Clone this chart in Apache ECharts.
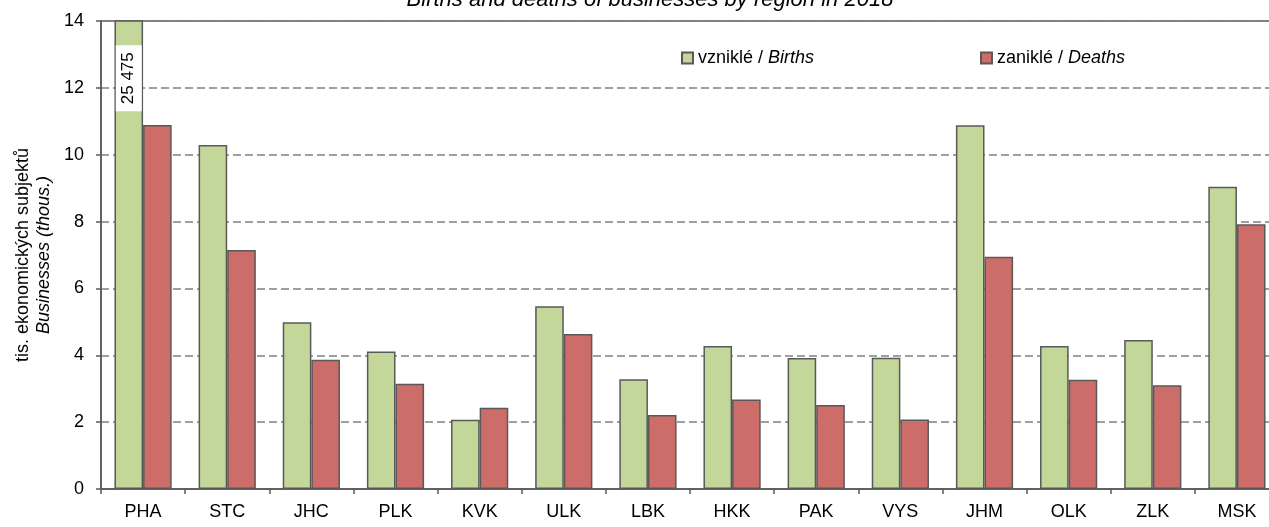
<!DOCTYPE html>
<html>
<head>
<meta charset="utf-8">
<script src="https://cdn.jsdelivr.net/npm/echarts@6/dist/echarts.min.js"></script>
<style>
    html, body { margin: 0; padding: 0; background: #fff; overflow: hidden; }
    /* the plot runs a little past the right edge of the picture, as in the original */
    #chart { width: 1279px; height: 527px; }
</style>
</head>
<body>
<div id="chart"></div>
<script>
    // regions (NUTS 3 codes) and values in thousands of businesses
    const regions = ['PHA', 'STC', 'JHC', 'PLK', 'KVK', 'ULK', 'LBK', 'HKK', 'PAK', 'VYS', 'JHM', 'OLK', 'ZLK', 'MSK'];
    const births = [25.475, 10.29, 4.99, 4.11, 2.07, 5.47, 3.28, 4.28, 3.92, 3.93, 10.88, 4.28, 4.46, 9.04];
    const deaths = [10.89, 7.15, 3.87, 3.15, 2.43, 4.64, 2.21, 2.68, 2.51, 2.08, 6.95, 3.27, 3.10, 7.92];
    const seriesNames = ['vzniklé', 'zaniklé'];
    const seriesNamesEn = ['Births', 'Deaths'];
    const yMin = 0, yMax = 14, yStep = 2;

    const font = '"Liberation Sans", Arial, sans-serif';
    const border = '#595959';

    // bars over the axis max get their real value written inside
    function thousands(v) {
        return String(Math.round(v * 1000)).replace(/\B(?=(\d{3})+(?!\d))/g, ' ');
    }
    function withOverflowLabel(arr) {
        return arr.map(function (v) {
            if (v <= yMax) return v;
            return {
                value: v,
                label: {
                    show: true,
                    position: 'insideTop',
                    distance: 25,
                    rotate: 90,
                    align: 'right',
                    verticalAlign: 'middle',
                    formatter: function (p) { return thousands(p.value); },
                    backgroundColor: '#fff',
                    padding: [5, 7, 4, 7],
                    color: '#000',
                    fontFamily: font,
                    fontSize: 17
                }
            };
        });
    }

    let myChart = echarts.init(document.getElementById('chart'));
    let option = {
        animation: false,
        title: {
            text: 'Births and deaths of businesses by region in 2018',
            left: 645,
            textAlign: 'center',
            top: -16,
            textStyle: {
                fontFamily: font,
                fontStyle: 'italic',
                fontWeight: 'normal',
                fontSize: 22,
                color: '#000'
            }
        },
        legend: [0, 1].map(function (i) {
            return {
                data: [seriesNames[i]],
                left: i === 0 ? 676 : 975,
                top: 44,
                itemWidth: 11,
                itemHeight: 11,
                itemGap: 6,
                icon: 'rect',
                formatter: function () {
                    return '{a|' + seriesNames[i] + ' / }{b|' + seriesNamesEn[i] + '}';
                },
                textStyle: {
                    fontFamily: font,
                    fontSize: 18,
                    color: '#000',
                    rich: {
                        a: { fontFamily: font, fontSize: 18, color: '#000' },
                        b: { fontFamily: font, fontSize: 18, color: '#000', fontStyle: 'italic' }
                    }
                }
            };
        }),
        grid: {
            left: 101,
            top: 21,
            bottom: 38,
            right: 0,
            show: true,
            borderColor: border,
            borderWidth: 1.5,
            backgroundColor: 'transparent'
        },
        xAxis: {
            type: 'category',
            data: regions,
            boundaryGap: true,
            axisLine: { lineStyle: { color: border, width: 1.5 } },
            axisTick: { show: true, interval: 0, length: 5, lineStyle: { color: border, width: 1.5 } },
            axisLabel: {
                interval: 0,
                margin: 14,
                fontFamily: font,
                fontSize: 18,
                color: '#000'
            }
        },
        yAxis: {
            type: 'value',
            min: yMin,
            max: yMax,
            interval: yStep,
            name: '{a|tis. ekonomických subjektů}\n{b|Businesses (thous.)}',
            nameLocation: 'middle',
            nameGap: 44,
            nameRotate: 90,
            nameTextStyle: {
                fontFamily: font,
                color: '#000',
                rich: {
                    a: { fontFamily: font, fontSize: 18, color: '#000', lineHeight: 21 },
                    b: { fontFamily: font, fontSize: 18, color: '#000', fontStyle: 'italic', lineHeight: 21 }
                }
            },
            axisLine: { show: true, lineStyle: { color: border, width: 1.5 } },
            axisTick: { show: true, length: 5, lineStyle: { color: border, width: 1.5 } },
            axisLabel: {
                margin: 17,
                fontFamily: font,
                fontSize: 18,
                color: '#000'
            },
            splitLine: {
                lineStyle: { type: [8, 4], color: '#808080', width: 1.5 }
            }
        },
        series: [
            {
                name: seriesNames[0],
                type: 'bar',
                data: withOverflowLabel(births),
                barGap: '0%',
                barCategoryGap: '32%',
                clip: true,
                itemStyle: { color: '#C4D79B', borderColor: border, borderWidth: 1.5 }
            },
            {
                name: seriesNames[1],
                type: 'bar',
                data: withOverflowLabel(deaths),
                barGap: '0%',
                barCategoryGap: '32%',
                clip: true,
                itemStyle: { color: '#CC6D6A', borderColor: border, borderWidth: 1.5 }
            }
        ]
    };
    myChart.setOption(option, true);
</script>
</body>
</html>
